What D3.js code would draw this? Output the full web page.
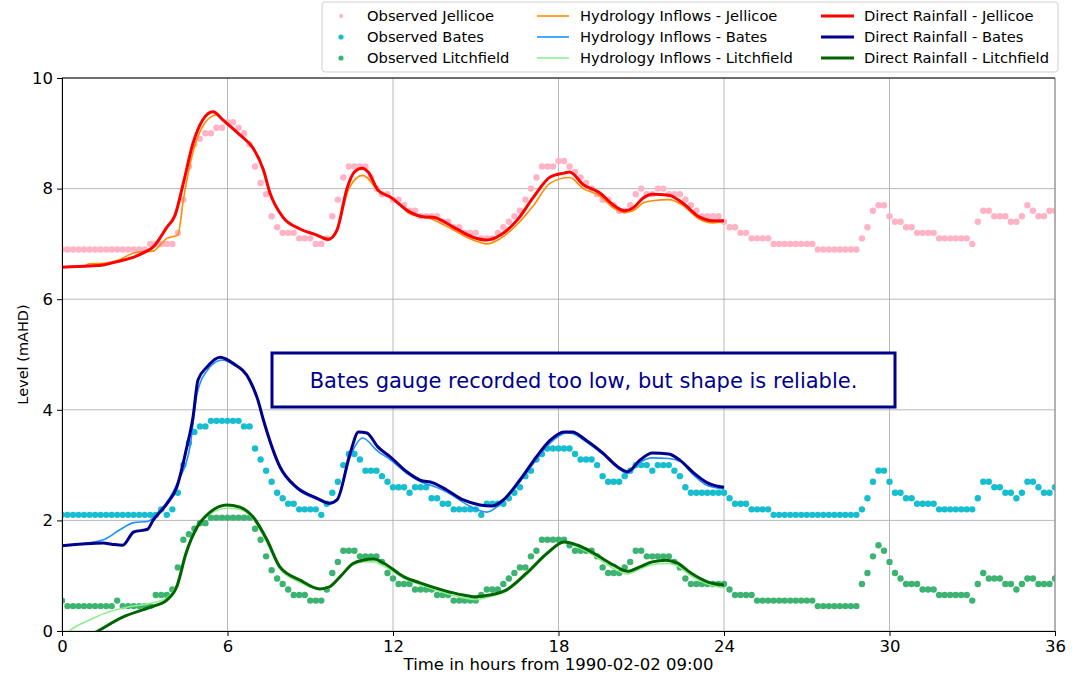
<!DOCTYPE html>
<html><head><meta charset="utf-8">
<script src="https://cdn.jsdelivr.net/npm/d3@7"></script>
<style>body{margin:0;background:#fff} svg{display:block} text{font-family:"DejaVu Sans",sans-serif}</style>
</head><body><svg id="c" width="1076" height="675"></svg>
<script>
// ---------- data ----------
const obsStartHour = 0, obsStepHours = 0.2;
const obsJellicoe = [
 6.9,6.9,6.9,6.9,6.9,6.9,6.9,6.9,6.9,6.9,
 6.9,6.9,6.9,6.9,6.9,6.9,7.0,7.0,7.0,7.0,
 7.0,7.2,7.8,8.4,8.8,8.9,9.0,9.0,9.1,9.1,
 9.2,9.2,9.1,9.0,8.8,8.4,8.1,7.9,7.5,7.3,
 7.2,7.2,7.2,7.1,7.1,7.1,7.0,7.0,7.1,7.5,
 7.8,8.2,8.4,8.4,8.4,8.4,8.2,8.0,7.9,7.9,
 7.8,7.8,7.7,7.6,7.6,7.5,7.5,7.5,7.5,7.4,
 7.4,7.3,7.3,7.2,7.2,7.2,7.1,7.1,7.1,7.2,
 7.3,7.4,7.5,7.6,7.8,8.0,8.2,8.4,8.4,8.4,
 8.5,8.5,8.4,8.3,8.2,8.1,8.0,7.9,7.8,7.8,
 7.7,7.6,7.6,7.7,7.9,8.0,7.9,7.9,8.0,8.0,
 7.9,7.9,7.9,7.8,7.7,7.6,7.5,7.5,7.5,7.5,
 7.4,7.3,7.3,7.2,7.2,7.1,7.1,7.1,7.1,7.0,
 7.0,7.0,7.0,7.0,7.0,7.0,7.0,6.9,6.9,6.9,
 6.9,6.9,6.9,6.9,6.9,7.1,7.3,7.6,7.7,7.7,
 7.5,7.4,7.4,7.3,7.3,7.2,7.2,7.2,7.2,7.1,
 7.1,7.1,7.1,7.1,7.1,7.0,7.4,7.6,7.6,7.5,
 7.5,7.5,7.4,7.4,7.5,7.7,7.6,7.5,7.5,7.6,
 7.6];
const obsBates = [
 2.1,2.1,2.1,2.1,2.1,2.1,2.1,2.1,2.1,2.1,
 2.1,2.1,2.1,2.1,2.1,2.1,2.1,2.1,2.2,2.1,
 2.2,2.5,3.0,3.4,3.6,3.7,3.7,3.8,3.8,3.8,
 3.8,3.8,3.8,3.7,3.7,3.3,3.1,2.9,2.7,2.5,
 2.4,2.3,2.3,2.2,2.2,2.2,2.2,2.1,2.3,2.5,
 2.7,3.0,3.2,3.2,3.1,2.9,2.9,2.9,2.8,2.7,
 2.6,2.6,2.6,2.5,2.6,2.6,2.6,2.4,2.4,2.3,
 2.3,2.2,2.2,2.2,2.2,2.2,2.1,2.3,2.3,2.3,
 2.3,2.4,2.5,2.6,2.8,2.9,3.1,3.2,3.3,3.3,
 3.3,3.3,3.3,3.2,3.1,3.1,3.1,3.0,2.8,2.7,
 2.7,2.7,2.8,2.9,3.0,3.0,3.0,2.9,3.0,3.0,
 3.0,2.9,2.8,2.6,2.5,2.5,2.5,2.5,2.5,2.5,
 2.5,2.4,2.3,2.3,2.3,2.2,2.2,2.2,2.2,2.1,
 2.1,2.1,2.1,2.1,2.1,2.1,2.1,2.1,2.1,2.1,
 2.1,2.1,2.1,2.1,2.1,2.2,2.4,2.7,2.9,2.9,
 2.7,2.5,2.5,2.4,2.4,2.3,2.3,2.3,2.3,2.2,
 2.2,2.2,2.2,2.2,2.2,2.2,2.4,2.7,2.7,2.6,
 2.6,2.5,2.5,2.4,2.5,2.7,2.7,2.6,2.5,2.5,
 2.6];
const obsLitchfield = [
 0.55,0.45,0.45,0.45,0.45,0.45,0.45,0.45,0.45,0.45,
 0.55,0.45,0.45,0.45,0.45,0.45,0.45,0.65,0.65,0.65,
 0.75,1.15,1.65,1.75,1.85,1.95,1.95,2.05,2.05,2.05,
 2.05,2.05,2.05,2.05,2.05,1.85,1.65,1.35,1.1,0.95,
 0.85,0.75,0.65,0.65,0.65,0.55,0.55,0.55,0.75,1.05,
 1.25,1.45,1.45,1.45,1.35,1.35,1.35,1.35,1.25,1.05,
 0.95,0.85,0.85,0.85,0.75,0.75,0.75,0.75,0.65,0.65,
 0.65,0.55,0.55,0.55,0.55,0.55,0.65,0.75,0.75,0.75,
 0.85,0.95,1.05,1.15,1.15,1.35,1.45,1.65,1.65,1.65,
 1.65,1.65,1.55,1.45,1.45,1.45,1.45,1.35,1.15,1.05,
 1.05,1.05,1.15,1.25,1.45,1.45,1.35,1.35,1.35,1.35,
 1.35,1.25,1.15,0.95,0.85,0.85,0.85,0.85,0.85,0.85,
 0.85,0.75,0.65,0.65,0.65,0.65,0.55,0.55,0.55,0.55,
 0.55,0.55,0.55,0.55,0.55,0.55,0.55,0.45,0.45,0.45,
 0.45,0.45,0.45,0.45,0.45,0.85,1.05,1.35,1.55,1.45,
 1.25,1.05,0.95,0.85,0.85,0.85,0.75,0.75,0.75,0.65,
 0.65,0.65,0.65,0.65,0.65,0.55,0.85,1.05,0.95,0.95,
 0.95,0.85,0.85,0.75,0.85,0.95,0.95,0.85,0.85,0.85,
 0.95];

const hiJellicoeT = [0,0.8,1.0,1.5,2.0,2.7,3.3,3.6,3.8,4.2,4.4,4.8,5.2,5.6,5.9,6.45,6.93,7.3,7.54,8.0,8.63,9.24,9.7,10.0,10.4,10.9,11.5,12.0,12.6,13.4,14.2,14.9,15.4,15.9,16.5,17.1,17.7,18.4,18.9,19.5,20.0,20.4,20.7,21.1,21.4,22.0,22.5,23.1,23.6,24.0];
const hiJellicoeV = [6.58,6.6,6.64,6.65,6.7,6.85,6.87,7.0,7.1,7.16,7.8,8.75,9.2,9.33,9.22,8.97,8.75,8.36,7.92,7.49,7.27,7.15,7.1,7.3,8.0,8.24,7.95,7.82,7.55,7.45,7.25,7.07,7.0,7.1,7.35,7.7,8.1,8.2,8.0,7.87,7.65,7.57,7.6,7.75,7.78,7.8,7.7,7.45,7.38,7.4];
const drJellicoeT = [0,1.0,1.5,2.0,2.6,3.0,3.3,3.8,4.1,4.4,4.75,5.1,5.47,5.84,6.45,6.93,7.3,7.54,8.0,8.63,9.24,9.65,9.97,10.33,10.6,10.88,11.1,11.46,11.9,12.6,13.1,13.45,14.2,14.9,15.4,15.9,16.5,17.1,17.7,18.2,18.4,18.9,19.5,20.0,20.4,20.7,21.07,21.4,22.0,22.5,23.1,23.6,24.0];
const drJellicoeV = [6.58,6.6,6.62,6.68,6.76,6.85,6.94,7.3,7.52,8.1,8.82,9.24,9.39,9.24,8.97,8.73,8.34,7.92,7.49,7.27,7.16,7.08,7.25,8.0,8.3,8.37,8.3,7.97,7.85,7.58,7.49,7.48,7.3,7.12,7.07,7.16,7.43,7.85,8.21,8.28,8.3,8.07,7.92,7.7,7.6,7.65,7.83,7.9,7.88,7.74,7.49,7.42,7.42];

const hiBatesT = [0,1.5,2.1,2.6,3.1,3.45,3.9,4.2,4.64,4.9,5.25,5.8,6.2,6.8,7.1,7.3,7.9,8.5,9.25,9.7,10.0,10.45,10.9,11.45,11.9,12.5,13.0,13.45,14.0,14.7,15.4,16.0,16.6,17.2,17.7,18.3,18.5,19.0,19.6,20.2,20.5,20.95,21.4,22.0,22.4,22.9,23.4,24.0];
const hiBatesV = [1.54,1.65,1.83,1.96,1.98,2.13,2.4,2.7,3.33,4.3,4.7,4.9,4.82,4.55,4.18,3.8,2.95,2.58,2.38,2.3,2.4,3.15,3.49,3.25,3.1,2.85,2.7,2.62,2.5,2.28,2.15,2.35,2.7,3.1,3.4,3.58,3.57,3.42,3.2,2.93,2.85,3.05,3.13,3.12,3.07,2.82,2.63,2.57];
const drBatesT = [0,1.5,1.8,2.2,2.6,3.1,3.3,3.8,4.16,4.5,4.75,4.93,5.25,5.73,6.2,6.8,7.1,7.3,7.9,8.5,9.25,9.7,9.97,10.45,10.75,11.05,11.45,11.9,12.5,12.98,13.45,13.95,14.55,15.15,15.6,16.0,16.6,17.2,17.7,18.2,18.5,19.0,19.6,20.2,20.5,20.95,21.4,22.0,22.4,22.9,23.4,24.0];
const drBatesV = [1.54,1.59,1.57,1.55,1.79,1.84,2.0,2.3,2.6,3.27,3.87,4.54,4.77,4.95,4.84,4.54,4.18,3.82,2.97,2.6,2.4,2.31,2.37,3.22,3.6,3.58,3.33,3.15,2.88,2.73,2.68,2.55,2.37,2.28,2.26,2.37,2.73,3.15,3.45,3.6,3.6,3.45,3.22,2.95,2.88,3.09,3.22,3.2,3.09,2.86,2.68,2.6];

const hiLitchfieldT = [0,0.4,1.0,1.6,2.35,3.2,3.8,4.16,4.5,4.9,5.37,6.0,6.45,6.93,7.43,7.9,8.63,9.35,9.7,10.08,10.55,10.9,11.3,11.65,12.4,12.98,13.8,14.55,15.0,15.5,16.1,16.85,17.6,18.2,18.7,19.4,20.0,20.5,20.95,21.4,21.9,22.3,22.8,23.4,24.0];
const hiLitchfieldV = [-0.1,0.05,0.2,0.33,0.43,0.5,0.6,0.85,1.45,1.9,2.12,2.22,2.2,2.03,1.6,1.12,0.88,0.75,0.78,1.0,1.2,1.25,1.25,1.18,0.95,0.84,0.7,0.6,0.57,0.62,0.72,1.02,1.4,1.6,1.52,1.33,1.13,1.03,1.12,1.2,1.22,1.18,1.0,0.85,0.78];
const drLitchfieldT = [0,1.3,2.2,3.2,3.8,4.16,4.5,4.9,5.37,5.97,6.45,6.93,7.43,7.9,8.63,9.35,9.7,10.08,10.55,10.9,11.3,11.65,12.4,12.98,13.8,14.55,15.0,15.5,16.1,16.85,17.6,18.2,18.7,19.4,20.0,20.5,20.95,21.4,21.9,22.3,22.8,23.4,24.0];
const drLitchfieldV = [-0.36,0.0,0.25,0.43,0.56,0.8,1.41,1.88,2.15,2.28,2.24,2.06,1.65,1.16,0.92,0.76,0.8,0.98,1.22,1.28,1.3,1.23,0.98,0.87,0.74,0.65,0.62,0.65,0.74,1.05,1.41,1.61,1.55,1.37,1.19,1.08,1.16,1.25,1.28,1.23,1.05,0.89,0.83];

const xTicks = [0,6,12,18,24,30,36];
const yTicks = [0,2,4,6,8,10];
const xLabel = "Time in hours from 1990-02-02 09:00";
const yLabel = "Level (mAHD)";
const noteText = "Bates gauge recorded too low, but shape is reliable.";

const obsNames = ["Observed Jellicoe","Observed Bates","Observed Litchfield"];
const hiNames = ["Hydrology Inflows - Jellicoe","Hydrology Inflows - Bates","Hydrology Inflows - Litchfield"];
const drNames = ["Direct Rainfall - Jellicoe","Direct Rainfall - Bates","Direct Rainfall - Litchfield"];

// ---------- styles ----------
const obsColors = ["#ffb3c4","#17becf","#3cb371"];
const hiColors = ["#ff8c00","#1e90ff","#90ee90"];
const drColors = ["#ff0000","#00008b","#006400"];

// ---------- chart ----------
const svg = d3.select("#c");
const L=62,R=1055,T=78,B=631;
const x = d3.scaleLinear().domain([0,36]).range([L,R]);
const y = d3.scaleLinear().domain([0,10]).range([B,T]);

svg.append("defs").append("clipPath").attr("id","clip")
  .append("rect").attr("x",L).attr("y",T).attr("width",R-L).attr("height",B-T);

// grid
const grid = svg.append("g");
grid.selectAll(".gx").data(xTicks).join("line")
  .attr("x1",d=>x(d)).attr("x2",d=>x(d)).attr("y1",T).attr("y2",B)
  .attr("stroke","#b0b0b0").attr("stroke-width",0.9);
grid.selectAll(".gy").data(yTicks).join("line")
  .attr("y1",d=>y(d)).attr("y2",d=>y(d)).attr("x1",L).attr("x2",R)
  .attr("stroke","#b0b0b0").attr("stroke-width",0.9);

const plot = svg.append("g").attr("clip-path","url(#clip)");
const obsSeries = [obsJellicoe, obsBates, obsLitchfield];
obsSeries.forEach((arr,k)=>{
  plot.append("g").selectAll("circle").data(arr).join("circle")
    .attr("cx",(d,i)=>x(obsStartHour+i*obsStepHours))
    .attr("cy",d=>y(d))
    .attr("r",3.2)
    .attr("fill",obsColors[k]);
});

const line = d3.line().x(d=>x(d[0])).y(d=>y(d[1])).curve(d3.curveMonotoneX);
const zip = (t,v)=>t.map((tt,i)=>[tt,v[i]]);
const hiSeries = [zip(hiJellicoeT,hiJellicoeV), zip(hiBatesT,hiBatesV), zip(hiLitchfieldT,hiLitchfieldV)];
const drSeries = [zip(drJellicoeT,drJellicoeV), zip(drBatesT,drBatesV), zip(drLitchfieldT,drLitchfieldV)];
hiSeries.forEach((s,k)=>plot.append("path").datum(s).attr("d",line)
  .attr("fill","none").attr("stroke",hiColors[k]).attr("stroke-width",1.6));
drSeries.forEach((s,k)=>plot.append("path").datum(s).attr("d",line)
  .attr("fill","none").attr("stroke",drColors[k]).attr("stroke-width",3).attr("stroke-linejoin","round"));

// frame
svg.append("line").attr("x1",R).attr("x2",R).attr("y1",T).attr("y2",B).attr("stroke","#888").attr("stroke-width",1);
svg.append("line").attr("x1",L).attr("x2",R).attr("y1",T).attr("y2",T).attr("stroke","#000").attr("stroke-width",1);

// axes
const xAxis = svg.append("g").attr("transform",`translate(0,${B})`)
  .call(d3.axisBottom(x).tickValues(xTicks).tickFormat(d3.format("d")).tickSize(5).tickPadding(4));
const yAxis = svg.append("g").attr("transform",`translate(${L},0)`)
  .call(d3.axisLeft(y).tickValues(yTicks).tickFormat(d3.format("d")).tickSize(5).tickPadding(4));
[xAxis,yAxis].forEach(a=>{
  a.select(".domain").attr("stroke","#000").attr("stroke-width",1);
  a.selectAll(".tick line").attr("stroke","#000");
  a.selectAll("text").attr("font-family","DejaVu Sans").attr("font-size",16.5).attr("fill","#000");
});

svg.append("text").attr("x",(L+R)/2).attr("y",670).attr("text-anchor","middle")
  .attr("font-size",16.5).text(xLabel);
svg.append("text").attr("transform",`translate(28,${(T+B)/2}) rotate(-90)`).attr("text-anchor","middle")
  .attr("font-size",14.5).text(yLabel);

// annotation
svg.append("rect").attr("x",272).attr("y",353).attr("width",623).attr("height",54)
  .attr("fill","#fff").attr("stroke","#00008b").attr("stroke-width",3);
svg.append("text").attr("x",583.5).attr("y",388).attr("text-anchor","middle")
  .attr("font-family","Liberation Sans, Arial, sans-serif").attr("font-size",21)
  .attr("fill","#00008b").text(noteText);

// legend
const lg = svg.append("g");
lg.append("rect").attr("x",322).attr("y",2).attr("width",736).attr("height",70).attr("rx",3)
  .attr("fill","#fff").attr("stroke","#d0d0d0").attr("stroke-width",1);
const rowsY = [16,37,58];
obsNames.forEach((n,i)=>{
  lg.append("circle").attr("cx",341).attr("cy",rowsY[i]).attr("r",i===0?2:2.6).attr("fill",obsColors[i]);
  lg.append("text").attr("x",367).attr("y",rowsY[i]).attr("dy","0.35em").attr("font-size",14.7).text(n);
});
hiNames.forEach((n,i)=>{
  lg.append("line").attr("x1",537).attr("x2",569).attr("y1",rowsY[i]).attr("y2",rowsY[i]).attr("stroke",hiColors[i]).attr("stroke-width",1.6);
  lg.append("text").attr("x",580).attr("y",rowsY[i]).attr("dy","0.35em").attr("font-size",14.7).text(n);
});
drNames.forEach((n,i)=>{
  lg.append("line").attr("x1",821).attr("x2",854).attr("y1",rowsY[i]).attr("y2",rowsY[i]).attr("stroke",drColors[i]).attr("stroke-width",3);
  lg.append("text").attr("x",864).attr("y",rowsY[i]).attr("dy","0.35em").attr("font-size",14.7).text(n);
});
</script></body></html>
